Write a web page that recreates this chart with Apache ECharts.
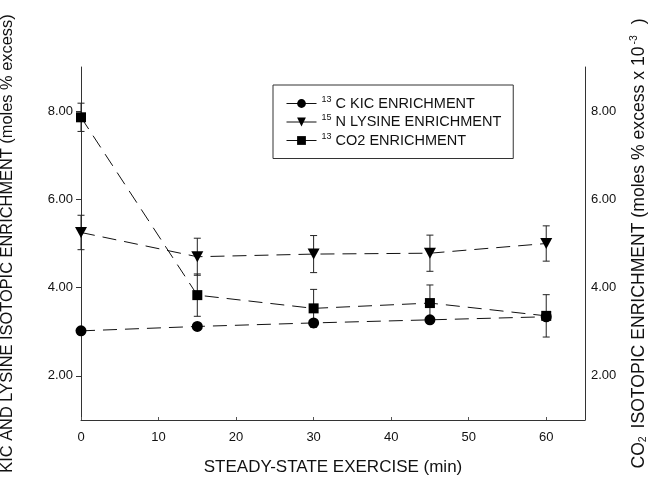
<!DOCTYPE html>
<html>
<head>
<meta charset="utf-8">
<script src="https://cdn.jsdelivr.net/npm/echarts@6/dist/echarts.min.js"></script>
<style>
html,body{margin:0;padding:0;background:#fff;}
#chart{width:649px;height:479px;}
</style>
</head>
<body>
<div id="chart"></div>
<script>
// ---- data ----
var minutes = [0, 15, 30, 45, 60];
var kicEnrichment = [3.02, 3.12, 3.20, 3.27, 3.34];
var lysineEnrichment = [5.25, 4.70, 4.76, 4.78, 5.00];
var lysineError = [0.39, 0.42, 0.42, 0.41, 0.40];
var co2Enrichment = [7.86, 3.83, 3.53, 3.65, 3.36];
var co2Error = [0.32, 0.48, 0.43, 0.41, 0.48];
var xTicks = [0, 10, 20, 30, 40, 50, 60];
var yTicks = [2, 4, 6, 8];
var seriesNames = ['13C KIC ENRICHMENT', '15N LYSINE ENRICHMENT', '13CO2 ENRICHMENT'];

function pairs(xs, ys) { return xs.map(function (x, i) { return [x, ys[i]]; }); }
function errs(xs, ys, es) { return xs.map(function (x, i) { return [x, ys[i] - es[i], ys[i] + es[i]]; }); }

function errorRender(params, api) {
  var x = api.value(0);
  var lo = api.coord([x, api.value(1)]);
  var hi = api.coord([x, api.value(2)]);
  var w = 3.5;
  var st = { stroke: '#222', lineWidth: 1 };
  return {
    type: 'group',
    children: [
      { type: 'line', shape: { x1: lo[0], y1: lo[1], x2: hi[0], y2: hi[1] }, style: st },
      { type: 'line', shape: { x1: lo[0] - w, y1: lo[1], x2: lo[0] + w, y2: lo[1] }, style: st },
      { type: 'line', shape: { x1: hi[0] - w, y1: hi[1], x2: hi[0] + w, y2: hi[1] }, style: st }
    ]
  };
}

var chart = echarts.init(document.getElementById('chart'));
var font = 'Liberation Sans, Arial, sans-serif';
var dash = { color: '#111', width: 1, type: [14, 8] };

var yBase = {
  type: 'value', min: 1, max: 9,
  axisLine: { show: true, lineStyle: { color: '#333', width: 1 } },
  splitLine: { show: false },
  nameLocation: 'middle',
  nameRotate: 90
};

var option = {
  backgroundColor: '#fff',
  animation: false,
  grid: { left: 81, right: 64, top: 67, bottom: 59, containLabel: false, outerBoundsMode: 'none' },
  legend: {
    orient: 'vertical', left: 273, top: 85,
    padding: [10, 12, 10, 13],
    itemGap: 2, itemWidth: 30, itemHeight: 11,
    borderColor: '#333', borderWidth: 1,
    data: seriesNames,
    lineStyle: { type: 'solid', width: 1 },
    formatter: function (n) {
      if (n === seriesNames[0]) return '{sup|13} C KIC ENRICHMENT';
      if (n === seriesNames[1]) return '{sup|15} N LYSINE ENRICHMENT';
      return '{sup|13} CO2 ENRICHMENT';
    },
    textStyle: { fontFamily: font, fontSize: 14.5, color: '#111', lineHeight: 16,
      rich: { sup: { fontSize: 9, fontFamily: font, color: '#111', padding: [0, 0, 8, 0] } } }
  },
  xAxis: {
    type: 'value', min: 0, max: 65, interval: 10,
    name: 'STEADY-STATE EXERCISE (min)',
    nameLocation: 'middle', nameGap: 39,
    nameTextStyle: { fontFamily: font, fontSize: 17, color: '#111' },
    axisLine: { show: true, lineStyle: { color: '#333', width: 1 } },
    axisTick: { show: true, inside: true, length: 3, lineStyle: { color: '#555' }, customValues: xTicks },
    axisLabel: { fontFamily: font, fontSize: 13, color: '#111', margin: 11, customValues: xTicks },
    splitLine: { show: false }
  },
  yAxis: [
    Object.assign({}, yBase, {
      position: 'left',
      name: 'KIC AND LYSINE ISOTOPIC ENRICHMENT (moles % excess)',
      nameGap: 66,
      nameTextStyle: { fontFamily: font, fontSize: 16.4, color: '#111' },
      axisTick: { show: true, inside: false, length: 5, lineStyle: { color: '#333' }, customValues: yTicks },
      axisLabel: { fontFamily: font, fontSize: 13, color: '#111', margin: 8, customValues: yTicks,
        formatter: function (v) { return v.toFixed(2); } }
    }),
    Object.assign({}, yBase, {
      position: 'right',
      name: 'CO{sub|2} ISOTOPIC ENRICHMENT (moles % excess x 10{sup|-3} )',
      nameGap: 44,
      nameTextStyle: { fontFamily: font, fontSize: 17.6, color: '#111',
        rich: {
          sub: { fontSize: 10.5, fontFamily: font, color: '#111', padding: [9, 3, 0, 0] },
          sup: { fontSize: 10.5, fontFamily: font, color: '#111', padding: [0, 6, 9, 2] }
        } },
      axisTick: { show: false, customValues: yTicks },
      axisLabel: { fontFamily: font, fontSize: 13, color: '#111', margin: 6, customValues: yTicks,
        formatter: function (v) { return v.toFixed(2); } }
    })
  ],
  series: [
    {
      name: seriesNames[0], type: 'line', yAxisIndex: 0,
      data: pairs(minutes, kicEnrichment),
      symbol: 'circle', symbolSize: 11,
      itemStyle: { color: '#000' }, lineStyle: dash, z: 5
    },
    {
      name: seriesNames[1], type: 'line', yAxisIndex: 0,
      data: pairs(minutes, lysineEnrichment),
      symbol: 'triangle', symbolSize: [12, 11], symbolRotate: 180,
      itemStyle: { color: '#000' }, lineStyle: dash, z: 5
    },
    {
      name: seriesNames[2], type: 'line', yAxisIndex: 1,
      data: pairs(minutes, co2Enrichment),
      symbol: 'rect', symbolSize: 10,
      itemStyle: { color: '#000' }, lineStyle: dash, z: 5
    },
    {
      type: 'custom', yAxisIndex: 0, renderItem: errorRender,
      data: errs(minutes, lysineEnrichment, lysineError),
      encode: { x: 0, y: [1, 2] }, z: 3, silent: true
    },
    {
      type: 'custom', yAxisIndex: 1, renderItem: errorRender,
      data: errs(minutes, co2Enrichment, co2Error),
      encode: { x: 0, y: [1, 2] }, z: 3, silent: true
    }
  ]
};
chart.setOption(option);
</script>
</body>
</html>
